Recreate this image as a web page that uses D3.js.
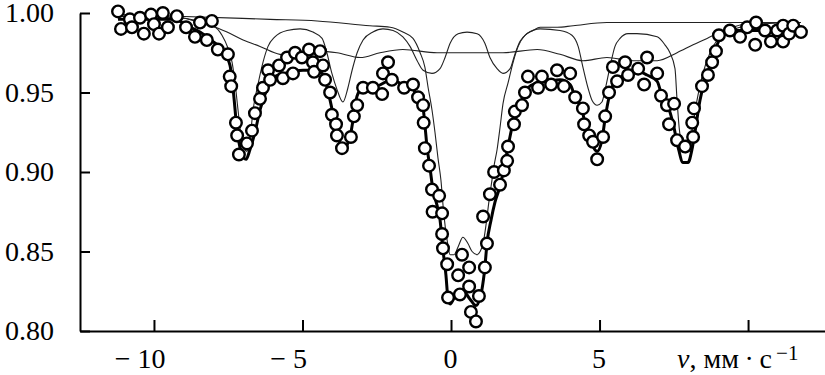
<!DOCTYPE html>
<html>
<head>
<meta charset="utf-8">
<script src="https://cdn.jsdelivr.net/npm/d3@7"></script>
<style>
  body { margin: 0; background: #fff; }
  svg { display: block; }
  text { font-family: "Liberation Serif", "Times New Roman", serif; }
</style>
</head>
<body>
<div id="chart"></div>
<script>
// Mössbauer spectrum: measured points [v, I]
const measured = [
  [-11.21, 1.001], [-11.11, 0.990], [-10.81, 0.996], [-10.74, 0.991], [-10.47, 0.997],
  [-10.34, 0.987], [-10.10, 0.999], [-10.00, 0.993], [-9.83, 0.987], [-9.70, 1.000],
  [-9.53, 0.991], [-9.23, 0.998], [-8.92, 0.991], [-8.62, 0.985], [-8.45, 0.994],
  [-8.22, 0.983], [-8.05, 0.995], [-7.85, 0.977], [-7.51, 0.974], [-7.45, 0.960],
  [-7.40, 0.954], [-7.24, 0.931], [-7.20, 0.923], [-7.14, 0.911], [-6.87, 0.918],
  [-6.70, 0.926], [-6.60, 0.937], [-6.43, 0.946], [-6.33, 0.953], [-6.16, 0.964],
  [-6.09, 0.958], [-5.79, 0.967], [-5.66, 0.959], [-5.52, 0.972], [-5.32, 0.962],
  [-5.25, 0.975], [-5.02, 0.972], [-4.78, 0.977], [-4.65, 0.969], [-4.61, 0.963],
  [-4.41, 0.976], [-4.31, 0.967], [-4.24, 0.958], [-4.07, 0.950], [-4.01, 0.936],
  [-3.87, 0.930], [-3.84, 0.923], [-3.67, 0.915], [-3.37, 0.922], [-3.27, 0.935],
  [-3.16, 0.942], [-2.96, 0.953], [-2.63, 0.953], [-2.32, 0.949], [-2.29, 0.962],
  [-2.12, 0.969], [-1.99, 0.958], [-1.58, 0.953], [-1.28, 0.955], [-1.11, 0.947],
  [-0.94, 0.942], [-0.92, 0.931], [-0.88, 0.915], [-0.74, 0.904], [-0.64, 0.889],
  [-0.40, 0.885], [-0.62, 0.875], [-0.30, 0.874], [-0.30, 0.861], [-0.27, 0.852],
  [-0.13, 0.842], [-0.10, 0.821], [0.24, 0.835], [0.30, 0.823], [0.37, 0.848],
  [0.61, 0.840], [0.61, 0.828], [0.67, 0.812], [0.84, 0.806], [0.94, 0.822],
  [1.14, 0.840], [1.21, 0.855], [1.08, 0.872], [1.31, 0.886], [1.45, 0.900],
  [1.65, 0.892], [1.78, 0.901], [1.89, 0.907], [1.92, 0.916], [2.12, 0.930],
  [2.15, 0.938], [2.39, 0.942], [2.49, 0.950], [2.59, 0.960], [2.93, 0.953],
  [3.06, 0.960], [3.37, 0.955], [3.57, 0.964], [3.80, 0.954], [4.01, 0.962],
  [4.18, 0.947], [4.44, 0.940], [4.48, 0.930], [4.65, 0.923], [4.78, 0.919],
  [4.92, 0.908], [5.12, 0.922], [5.19, 0.935], [5.32, 0.950], [5.45, 0.966],
  [5.59, 0.957], [5.86, 0.969], [5.96, 0.961], [6.30, 0.965], [6.50, 0.955],
  [6.60, 0.972], [6.94, 0.962], [7.07, 0.948], [7.27, 0.942], [7.51, 0.943],
  [7.34, 0.930], [7.61, 0.920], [7.88, 0.916], [8.15, 0.922], [8.12, 0.931],
  [8.18, 0.940], [8.45, 0.954], [8.65, 0.961], [8.79, 0.969], [8.92, 0.976],
  [9.02, 0.986], [9.39, 0.989], [9.73, 0.985], [9.97, 0.991], [10.24, 0.980],
  [10.27, 0.994], [10.57, 0.989], [10.77, 0.982], [10.98, 0.989], [11.18, 0.992],
  [11.18, 0.982], [11.38, 0.987], [11.52, 0.992], [11.78, 0.988]
];

// total fit (thick line)
const fitTotal = [
  [-11.21, 0.996], [-9.29, 0.996], [-8.89, 0.992], [-8.45, 0.988], [-8.01, 0.982],
  [-7.71, 0.977], [-7.44, 0.967], [-7.34, 0.953], [-7.21, 0.928], [-7.07, 0.913],
  [-6.90, 0.908], [-6.77, 0.914], [-6.60, 0.925], [-6.43, 0.939], [-6.20, 0.952],
  [-5.93, 0.960], [-5.59, 0.962], [-4.98, 0.964], [-4.65, 0.964], [-4.34, 0.962],
  [-4.24, 0.958], [-4.07, 0.945], [-3.91, 0.931], [-3.77, 0.920], [-3.64, 0.914],
  [-3.50, 0.917], [-3.40, 0.922], [-3.27, 0.936], [-3.16, 0.948], [-2.96, 0.953],
  [-2.49, 0.954], [-1.99, 0.958], [-1.55, 0.954], [-1.28, 0.952], [-1.11, 0.947],
  [-0.94, 0.940], [-0.88, 0.930], [-0.81, 0.916], [-0.71, 0.903], [-0.61, 0.889],
  [-0.47, 0.879], [-0.37, 0.870], [-0.27, 0.851], [-0.17, 0.835], [-0.10, 0.820],
  [-0.03, 0.817], [0.13, 0.822], [0.37, 0.826], [0.64, 0.820], [0.84, 0.816],
  [0.98, 0.821], [1.04, 0.826], [1.14, 0.840], [1.21, 0.855], [1.35, 0.870],
  [1.48, 0.881], [1.65, 0.891], [1.82, 0.906], [1.92, 0.916], [2.09, 0.931],
  [2.22, 0.939], [2.42, 0.947], [2.59, 0.953], [2.90, 0.956], [3.27, 0.957],
  [3.67, 0.958], [4.01, 0.955], [4.18, 0.947], [4.41, 0.939], [4.51, 0.931],
  [4.68, 0.922], [4.81, 0.915], [4.92, 0.913], [5.08, 0.920], [5.19, 0.934],
  [5.32, 0.947], [5.52, 0.957], [5.86, 0.961], [6.30, 0.963], [6.60, 0.961],
  [6.94, 0.957], [7.10, 0.948], [7.31, 0.941], [7.47, 0.931], [7.64, 0.916],
  [7.81, 0.906], [7.98, 0.906], [8.11, 0.914], [8.22, 0.926], [8.38, 0.945],
  [8.55, 0.958], [8.79, 0.969], [8.96, 0.980], [9.12, 0.986], [9.56, 0.989],
  [10.40, 0.989], [11.78, 0.989]
];

// quadrupole doublet (thin)
const doublet = [
  [-11.21, 0.999], [-9.23, 0.998], [-6.09, 0.996], [-4.51, 0.995], [-2.73, 0.992],
  [-2.05, 0.991], [-1.62, 0.988], [-1.28, 0.984], [-1.04, 0.975], [-0.88, 0.966],
  [-0.77, 0.953], [-0.64, 0.939], [-0.54, 0.925], [-0.44, 0.909], [-0.34, 0.895],
  [-0.24, 0.873], [-0.13, 0.857], [-0.03, 0.848], [0.10, 0.848], [0.24, 0.853],
  [0.40, 0.859], [0.57, 0.855], [0.71, 0.850], [0.88, 0.848], [0.98, 0.850],
  [1.08, 0.855], [1.18, 0.867], [1.28, 0.882], [1.38, 0.895], [1.45, 0.904],
  [1.55, 0.914], [1.65, 0.928], [1.75, 0.943], [1.92, 0.956], [2.09, 0.969],
  [2.26, 0.979], [2.49, 0.986], [2.76, 0.989], [3.00, 0.991], [3.57, 0.991],
  [4.11, 0.992], [5.25, 0.994], [7.47, 0.994], [9.73, 0.994], [11.78, 0.994]
];

// magnetic sextet (thin)
const sextet = [
  [-11.21, 0.998], [-9.12, 0.997], [-8.45, 0.994], [-8.01, 0.992], [-7.71, 0.986],
  [-7.51, 0.978], [-7.37, 0.969], [-7.27, 0.956], [-7.17, 0.939], [-7.07, 0.923],
  [-6.97, 0.915], [-6.87, 0.913], [-6.77, 0.920], [-6.67, 0.938], [-6.50, 0.955],
  [-6.33, 0.969], [-6.16, 0.979], [-5.93, 0.985], [-5.52, 0.989], [-5.08, 0.990],
  [-4.65, 0.988], [-4.34, 0.984], [-4.18, 0.975], [-4.01, 0.962], [-3.84, 0.952],
  [-3.64, 0.944], [-3.47, 0.953], [-3.33, 0.964], [-3.16, 0.975], [-2.96, 0.983],
  [-2.63, 0.988], [-2.29, 0.990], [-1.95, 0.989], [-1.62, 0.985], [-1.38, 0.979],
  [-1.14, 0.970], [-0.94, 0.964], [-0.64, 0.962], [-0.37, 0.965], [-0.20, 0.972],
  [-0.03, 0.981], [0.24, 0.987], [0.54, 0.988], [0.88, 0.987], [1.14, 0.981],
  [1.31, 0.972], [1.55, 0.965], [1.75, 0.962], [1.99, 0.965], [2.15, 0.974],
  [2.32, 0.982], [2.56, 0.987], [3.00, 0.990], [3.67, 0.989], [4.07, 0.986],
  [4.28, 0.979], [4.44, 0.966], [4.61, 0.953], [4.75, 0.945], [4.92, 0.942],
  [5.08, 0.944], [5.19, 0.952], [5.35, 0.966], [5.52, 0.979], [5.69, 0.984],
  [5.96, 0.987], [6.26, 0.987], [6.94, 0.985], [7.20, 0.980], [7.37, 0.975],
  [7.54, 0.965], [7.61, 0.945], [7.68, 0.928], [7.81, 0.915], [7.91, 0.912],
  [8.01, 0.917], [8.11, 0.926], [8.28, 0.945], [8.48, 0.962], [8.72, 0.975],
  [8.96, 0.983], [9.29, 0.988], [9.73, 0.991], [10.30, 0.993], [11.78, 0.994]
];

// broad distribution component (thin)
const broad = [
  [-11.21, 0.998], [-9.12, 0.997], [-8.05, 0.992], [-7.54, 0.988], [-7.00, 0.983],
  [-6.43, 0.979], [-5.76, 0.974], [-4.98, 0.973], [-4.41, 0.976], [-3.84, 0.975],
  [-3.06, 0.972], [-2.39, 0.975], [-1.62, 0.977], [-0.47, 0.975], [0.64, 0.975],
  [1.75, 0.975], [2.90, 0.977], [3.67, 0.974], [4.44, 0.970], [5.25, 0.972],
  [6.13, 0.970], [6.94, 0.970], [7.61, 0.975], [8.15, 0.980], [8.62, 0.984],
  [9.06, 0.988], [9.49, 0.991], [10.17, 0.994], [11.78, 0.994]
];

const xTicks = [-10, -5, 0, 5, 10];
const yTicks = [0.80, 0.85, 0.90, 0.95, 1.00];

const width = 825, height = 375;
const margin = { top: 13, right: 0, bottom: 44, left: 80 };

const svg = d3.select("#chart")
  .append("svg")
  .attr("width", width)
  .attr("height", height);

// Scales
const x = d3.scaleLinear()
  .domain([-12.49, 12.59])
  .range([margin.left, width - margin.right]);

const y = d3.scaleLinear()
  .domain([0.80, 1.00])
  .range([height - margin.bottom, margin.top]);

// Axes
const xAxis = svg.append("g")
  .attr("transform", `translate(0,${height - margin.bottom})`)
  .call(d3.axisBottom(x)
    .tickValues(xTicks)
    .tickSize(-11)
    .tickSizeOuter(0)
    .tickPadding(17)
    .tickFormat(d => d === 10 ? "" : (d < 0 ? "\u2212 " + Math.abs(d) : d)));

xAxis.selectAll(".tick text")
  .attr("text-anchor", d => d < 0 ? "end" : "middle")
  .attr("dx", d => d < 0 ? String(Math.abs(d)).length * 7 - 3 : -1);

const yAxis = svg.append("g")
  .attr("transform", `translate(${margin.left},0)`)
  .call(d3.axisLeft(y)
    .tickValues(yTicks)
    .tickSize(-10)
    .tickSizeOuter(0)
    .tickPadding(26)
    .tickFormat(d3.format(".2f")));

svg.selectAll(".domain, .tick line")
  .attr("stroke", "#000")
  .attr("stroke-width", 2);

svg.selectAll(".tick text")
  .attr("fill", "#000")
  .style("font-family", "'Liberation Serif', 'Times New Roman', serif")
  .style("font-size", "28px");

// Axis label
const unitLabel = svg.append("text")
  .attr("x", 677)
  .attr("y", 368)
  .attr("fill", "#000")
  .style("font-size", "28px");
unitLabel.append("tspan").style("font-style", "italic").text("v");
unitLabel.append("tspan").text(", мм\u2009·\u2009с");
unitLabel.append("tspan")
  .attr("dy", -8)
  .style("font-size", "21px")
  .text("\u2009\u22121");

// Lines
const line = d3.line()
  .x(d => x(d[0]))
  .y(d => y(d[1]))
  .curve(d3.curveMonotoneX);

[broad, sextet, doublet].forEach(comp => {
  svg.append("path")
    .datum(comp)
    .attr("fill", "none")
    .attr("stroke", "#222")
    .attr("stroke-width", 1.1)
    .attr("d", line);
});

svg.append("path")
  .datum(fitTotal)
  .attr("fill", "none")
  .attr("stroke", "#000")
  .attr("stroke-width", 3)
  .attr("stroke-linejoin", "round")
  .attr("d", line);

// Measured points
svg.append("g")
  .selectAll("circle")
  .data(measured)
  .join("circle")
  .attr("cx", d => x(d[0]))
  .attr("cy", d => y(d[1]))
  .attr("r", 5.8)
  .attr("fill", "#fff")
  .attr("stroke", "#000")
  .attr("stroke-width", 2.4);
</script>
</body>
</html>
